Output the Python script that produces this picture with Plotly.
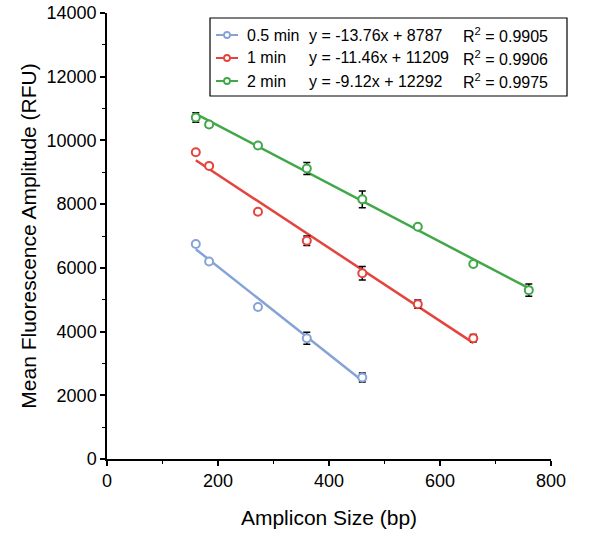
import plotly.graph_objects as go

# ---- data ----
series_names = ["0.5 min", "1 min", "2 min"]
amplicon_sizes = [160, 184, 272, 360, 460, 560, 660, 760]

rfu_05 = [6750, 6200, 4770, 3790, 2560]
err_05 = [40, 30, 40, 190, 140]

rfu_1 = [9630, 9200, 7760, 6850, 5830, 4860, 3790]
err_1 = [40, 40, 40, 150, 210, 130, 120]

rfu_2 = [10720, 10500, 9840, 9120, 8150, 7290, 6120, 5300]
err_2 = [150, 90, 40, 190, 260, 40, 40, 190]

slopes = [-13.76, -11.46, -9.12]
intercepts = [8787, 11209, 12292]
r_squared = ["0.9905", "0.9906", "0.9975"]
equations = ["y = -13.76x + 8787", "y = -11.46x + 11209", "y = -9.12x + 12292"]

x_ticks = [0, 200, 400, 600, 800]
y_ticks = [0, 2000, 4000, 6000, 8000, 10000, 12000, 14000]

colors = ["#86a3d8", "#e5433d", "#40a848"]

FONT = "Liberation Sans, Arial, sans-serif"

fig = go.Figure()

all_y = [rfu_05, rfu_1, rfu_2]
all_err = [err_05, err_1, err_2]

for i, (ys, es) in enumerate(zip(all_y, all_err)):
    xs = amplicon_sizes[:len(ys)]
    # regression line
    x_line = [min(xs), max(xs)]
    y_line = [slopes[i] * x + intercepts[i] for x in x_line]
    fig.add_trace(go.Scatter(
        x=x_line, y=y_line, mode="lines",
        line=dict(color=colors[i], width=2.5),
        showlegend=False, hoverinfo="skip"))
    # data points
    fig.add_trace(go.Scatter(
        x=xs, y=ys, mode="markers",
        marker=dict(symbol="circle", size=8, color="white",
                    line=dict(width=2, color=colors[i])),
        error_y=dict(type="data", array=es, visible=True, color="black",
                     thickness=1.5, width=3.5),
        name=series_names[i], showlegend=False))

# ---- custom legend (positions in window pixels) ----
W, H = 444.0, 446.0
L, T = 107.0, 13.0


def px_x(px):
    return (px - L) / W


def px_y(py):
    return (T + H - py) / H


shapes = []
annotations = []
shapes.append(dict(type="rect", xref="paper", yref="paper",
                   x0=px_x(210), x1=px_x(567), y0=px_y(96), y1=px_y(18),
                   line=dict(color="black", width=1.2), fillcolor="white",
                   layer="above"))
rows_py = [35, 58, 81]
for i, py in enumerate(rows_py):
    shapes.append(dict(type="line", xref="paper", yref="paper",
                       x0=px_x(216), x1=px_x(238), y0=px_y(py), y1=px_y(py),
                       line=dict(color=colors[i], width=2), layer="above"))
    shapes.append(dict(type="circle", xref="paper", yref="paper",
                       xsizemode="pixel", ysizemode="pixel",
                       xanchor=px_x(227), yanchor=px_y(py),
                       x0=-3, x1=3, y0=-3, y1=3,
                       line=dict(color=colors[i], width=1.8),
                       fillcolor="white", layer="above"))
    annotations.append(dict(xref="paper", yref="paper", x=px_x(245), y=px_y(py),
                            xanchor="left", yanchor="middle", showarrow=False,
                            text=series_names[i], font=dict(size=16, color="black", family=FONT)))
    annotations.append(dict(xref="paper", yref="paper", x=px_x(307), y=px_y(py),
                            xanchor="left", yanchor="middle", showarrow=False,
                            text=equations[i], font=dict(size=16, color="black", family=FONT)))
    annotations.append(dict(xref="paper", yref="paper", x=px_x(461), y=px_y(py),
                            xanchor="left", yanchor="middle", showarrow=False,
                            text="R<sup>2</sup> = " + r_squared[i],
                            font=dict(size=16, color="black", family=FONT)))

fig.update_layout(
    width=600, height=536,
    margin=dict(l=107, r=49, t=13, b=77, autoexpand=False),
    plot_bgcolor="white", paper_bgcolor="white",
    font=dict(family=FONT, color="black"),
    shapes=shapes, annotations=annotations,
    showlegend=False,
)

fig.update_xaxes(
    range=[0, 800], tickvals=x_ticks, ticktext=[str(v) for v in x_ticks],
    automargin=False,
    showgrid=False, zeroline=False, showline=True, linecolor="black", linewidth=1.5,
    ticks="outside", ticklen=5, tickwidth=1.5, tickcolor="black",
    tickfont=dict(size=18, family=FONT, color="black"),
    minor=dict(dtick=100, ticks="outside", ticklen=3, tickwidth=1.2, tickcolor="black"),
    title=dict(text="Amplicon Size (bp)", font=dict(size=21, family=FONT, color="black"), standoff=20),
)
fig.update_yaxes(
    range=[0, 14000], tickvals=y_ticks, ticktext=[str(v) for v in y_ticks],
    automargin=False,
    showgrid=False, zeroline=False, showline=True, linecolor="black", linewidth=1.5,
    ticks="outside", ticklen=5, tickwidth=1.5, tickcolor="black",
    tickfont=dict(size=18, family=FONT, color="black"),
    minor=dict(dtick=1000, ticks="outside", ticklen=3, tickwidth=1.2, tickcolor="black"),
    title=dict(text="Mean Fluorescence Amplitude (RFU)", font=dict(size=21, family=FONT, color="black"), standoff=4),
)

fig.write_html("out.html", config={"displayModeBar": False},
               post_script="document.body.style.margin='0';")
